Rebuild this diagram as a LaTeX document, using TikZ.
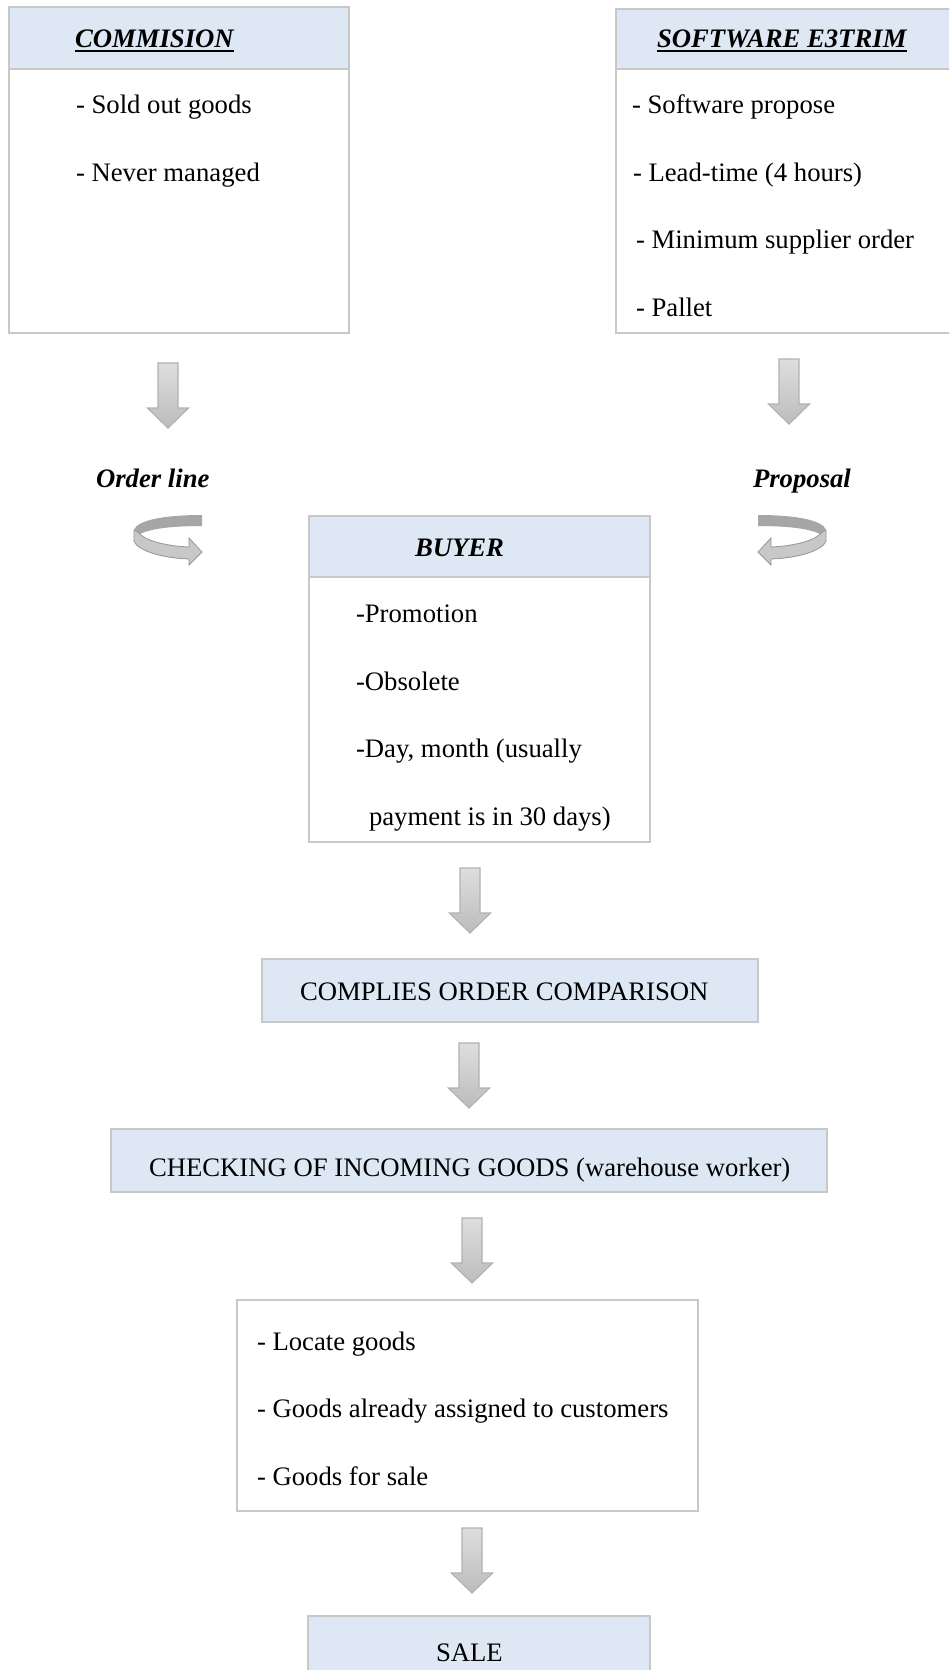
\documentclass[tikz,border=0pt]{standalone}
\usepackage{fontspec}
\setmainfont{Liberation Serif}
\usetikzlibrary{calc}

\definecolor{boxline}{RGB}{200,200,200}
\definecolor{headfill}{RGB}{221,232,244}
\definecolor{arrtop}{RGB}{222,222,222}
\definecolor{arrbot}{RGB}{188,188,188}
\definecolor{arredge}{RGB}{178,178,178}
\definecolor{bandback}{RGB}{166,166,166}
\definecolor{bandfront}{RGB}{200,200,200}
\definecolor{bandedge}{RGB}{150,150,150}

\tikzset{
  frame/.style={draw=boxline, line width=1pt, inner sep=0pt, outer sep=0pt,
    anchor=north west, fill=white},
  headbox/.style={frame, fill=headfill},
  txt/.style={anchor=base west, inner sep=0pt, outer sep=0pt,
    font=\fontsize{13.35pt}{16pt}\selectfont},
  ttl/.style={txt, font=\fontsize{13.35pt}{16pt}\selectfont\bfseries\itshape},
  uline/.style={line width=1pt, black},
  % grey block arrow pointing down, origin at the middle of its top edge
  downarrow/.pic={
    \shade[top color=arrtop, bottom color=arrbot, draw=arredge,
      line width=0.6pt, line join=miter]
      (-10,0) -- (10,0) -- (10,45) -- (20.5,45) -- (0,65)
      -- (-20.5,45) -- (-10,45) -- cycle;
  },
  % grey turning ribbon arrow, origin at its top-left corner
  turnarrow/.pic={
    \fill[bandback] (69,0) .. controls (32,0) and (4,5) .. (1,15)
      -- (7,19) .. controls (17,14) and (37,11) .. (69,11) -- cycle;
    \filldraw[fill=bandfront, draw=bandedge, line width=0.4pt, line join=miter]
      (1,15) -- (1,26) .. controls (4,35) and (27,43) .. (56,44)
      -- (56,50) -- (69,37) -- (56,23) -- (56,32)
      .. controls (32,31) and (10,25) .. (5,17) -- cycle;
  }
}

\begin{document}
\begin{tikzpicture}[x=0.5pt, y=-0.5pt]
\useasboundingbox (0,0) rectangle (949,1670);
\clip (0,0) rectangle (949,1670);
\fill[white] (0,0) rectangle (949,1670);

% --- COMMISION ---
\node[frame, minimum width=170pt, minimum height=163pt] (combox) at (9,7) {};
\node[headbox, minimum width=170pt, minimum height=31pt] (comhead) at (9,7) {};
\node[ttl] (comt) at (75,47) {COMMISION\ };
\draw[uline] ([yshift=-2.2pt]comt.base west) -- ([yshift=-2.2pt]comt.base east);
\node[txt] (com1) at (76,113) {- Sold out goods};
\node[txt] (com2) at (76,181) {- Never managed};

% --- SOFTWARE E3TRIM ---
\node[frame, minimum width=175pt, minimum height=162pt] (swbox) at (616,9) {};
\node[headbox, minimum width=175pt, minimum height=30pt] (swhead) at (616,9) {};
\node[ttl] (swt) at (657,47) {SOFTWARE E3TRIM};
\draw[uline] ([yshift=-2.2pt]swt.base west) -- ([yshift=-2.2pt]swt.base east);
\node[txt] (sw1) at (632,113) {- Software propose};
\node[txt] (sw2) at (633,181) {- Lead-time (4 hours)};
\node[txt] (sw3) at (636,248) {- Minimum supplier order};
\node[txt] (sw4) at (636,316) {- Pallet};

% --- arrows and labels towards the buyer ---
\pic at (168,363) {downarrow};
\pic at (789,359) {downarrow};
\node[ttl] (orderlbl) at (96,487) {Order line};
\node[ttl] (proplbl) at (753,487) {Proposal};
\pic at (133,515) {turnarrow};
\pic[xscale=-1] at (827,515) {turnarrow};

% --- BUYER ---
\node[frame, minimum width=170.5pt, minimum height=163pt] (buybox) at (309,516) {};
\node[headbox, minimum width=170.5pt, minimum height=30.5pt] (buyhead) at (309,516) {};
\node[ttl] (buyt) at (415,556) {BUYER};
\node[txt] (buy1) at (356,622) {-Promotion};
\node[txt] (buy2) at (356,690) {-Obsolete};
\node[txt] (buy3) at (356,757) {-Day, month (usually};
\node[txt] (buy4) at (369,825) {payment is in 30 days)};

\pic at (470,868) {downarrow};

% --- COMPLIES ORDER COMPARISON ---
\node[headbox, minimum width=248pt, minimum height=31.5pt] (comp) at (262,959) {};
\node[txt] (compt) at (300,1000) {COMPLIES ORDER COMPARISON};

\pic at (469,1043) {downarrow};

% --- CHECKING OF INCOMING GOODS ---
\node[headbox, minimum width=358pt, minimum height=31.5pt] (chk) at (111,1129) {};
\node[txt] (chkt) at (149,1176) {CHECKING OF INCOMING GOODS (warehouse worker)};

\pic at (472,1218) {downarrow};

% --- goods handling ---
\node[frame, minimum width=230.5pt, minimum height=105.5pt] (loc) at (237,1300) {};
\node[txt] (loc1) at (257,1350) {- Locate goods};
\node[txt] (loc2) at (257,1417) {- Goods already assigned to customers};
\node[txt] (loc3) at (257,1485) {- Goods for sale};

\pic at (472,1528) {downarrow};

% --- SALE ---
\node[headbox, minimum width=171pt, minimum height=45pt] (sale) at (308,1616) {};
\node[txt] (salet) at (436,1661) {SALE};
\end{tikzpicture}
\end{document}
